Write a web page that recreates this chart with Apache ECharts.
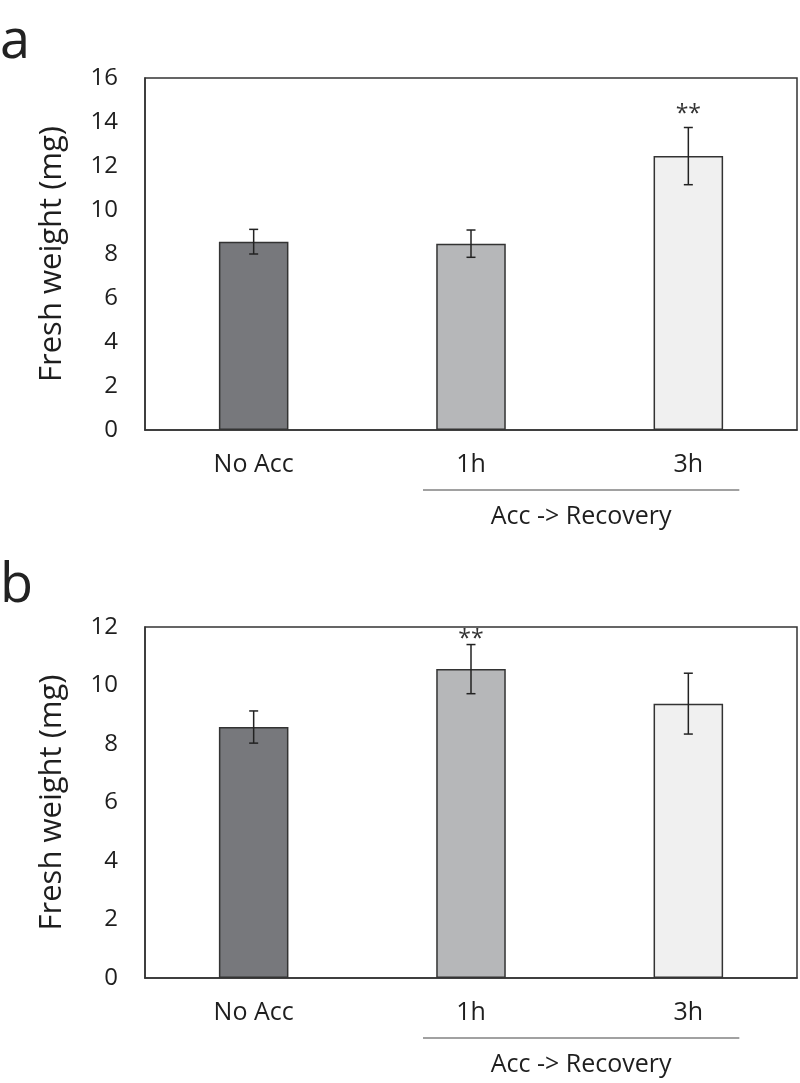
<!DOCTYPE html>
<html>
<head>
<meta charset="utf-8">
<script src="https://cdn.jsdelivr.net/npm/echarts@6/dist/echarts.min.js"></script>
<style>
html,body{margin:0;padding:0;background:#fff;}
#c{width:800px;height:1083px;}
</style>
</head>
<body>
<div id="c"></div>
<script>
// ---- data ----
const categories = ['No Acc', '1h', '3h'];
const meansA = [8.56, 8.47, 12.45];
const errA = [0.56, 0.62, 1.30];
const sigA = ['', '', '**'];
const meansB = [8.58, 10.56, 9.38];
const errB = [0.55, 0.84, 1.04];
const sigB = ['', '**', ''];
const yTicksA = {min: 0, max: 16, interval: 2};
const yTicksB = {min: 0, max: 12, interval: 2};
const panelLabels = ['a', 'b'];
const groupLabel = 'Acc -> Recovery';
const yTitle = 'Fresh weight (mg)';

const barColors = ['#77787c', '#b6b7b9', '#f0f0f0'];
const FONT = '"Open Sans", sans-serif';
const TXT = '#1e1e1e';

const chart = echarts.init(document.getElementById('c'), null, {renderer: 'canvas'});

function xAxisCfg(gi) {
  return {
    type: 'category', gridIndex: gi, data: categories,
    axisLine: {show: true, lineStyle: {color: '#333', width: 1.5}},
    axisTick: {show: false},
    axisLabel: {color: TXT, fontFamily: FONT, fontSize: 25, margin: 22}
  };
}
function yAxisCfg(gi, t) {
  return {
    type: 'value', gridIndex: gi, min: t.min, max: t.max, interval: t.interval,
    name: yTitle, nameLocation: 'middle', nameGap: 77, nameRotate: 90,
    nameTextStyle: {color: TXT, fontFamily: FONT, fontSize: 31},
    axisLine: {show: true, lineStyle: {color: '#333', width: 1.5}},
    axisTick: {show: false},
    splitLine: {show: false},
    axisLabel: {color: TXT, fontFamily: FONT, fontSize: 24, margin: 27}
  };
}
function barSeries(gi, means) {
  return {
    type: 'bar', xAxisIndex: gi, yAxisIndex: gi, barWidth: '32%',
    data: means.map((v, i) => ({value: v, itemStyle: {color: barColors[i]}})),
    itemStyle: {borderColor: '#333', borderWidth: 1.5},
    silent: true
  };
}
function errSeries(gi, means, errs) {
  return {
    type: 'custom', xAxisIndex: gi, yAxisIndex: gi, z: 10,
    data: means.map((m, i) => [i, m - errs[i], m + errs[i]]),
    renderItem: function (params, api) {
      const x = api.value(0);
      const lo = api.coord([x, api.value(1)]);
      const hi = api.coord([x, api.value(2)]);
      const w = 4.5;
      const st = {stroke: '#222', lineWidth: 1.5};
      return {type: 'group', children: [
        {type: 'line', shape: {x1: lo[0], y1: lo[1], x2: hi[0], y2: hi[1]}, style: st},
        {type: 'line', shape: {x1: lo[0] - w, y1: lo[1], x2: lo[0] + w, y2: lo[1]}, style: st},
        {type: 'line', shape: {x1: hi[0] - w, y1: hi[1], x2: hi[0] + w, y2: hi[1]}, style: st}
      ]};
    }
  };
}
function sigSeries(gi, means, errs, sigs, off) {
  return {
    type: 'custom', xAxisIndex: gi, yAxisIndex: gi, z: 11,
    data: means.map((m, i) => [i, m + errs[i], sigs[i]]),
    renderItem: function (params, api) {
      const p = api.coord([api.value(0), api.value(1)]);
      return {type: 'text', x: p[0], y: p[1] - off,
        style: {text: sigs[params.dataIndex], fill: '#333', font: '23px ' + FONT,
          textAlign: 'center', textVerticalAlign: 'bottom'}};
    }
  };
}

chart.setOption({
  backgroundColor: '#fff',
  animation: false,
  grid: [
    {left: 145, top: 78, width: 652, height: 352, show: true, borderColor: '#333', borderWidth: 1.5, backgroundColor: 'transparent'},
    {left: 145, top: 627, width: 652, height: 351, show: true, borderColor: '#333', borderWidth: 1.5, backgroundColor: 'transparent'}
  ],
  xAxis: [xAxisCfg(0), xAxisCfg(1)],
  yAxis: [yAxisCfg(0, yTicksA), yAxisCfg(1, yTicksB)],
  series: [
    barSeries(0, meansA), errSeries(0, meansA, errA), sigSeries(0, meansA, errA, sigA, 2),
    barSeries(1, meansB), errSeries(1, meansB, errB), sigSeries(1, meansB, errB, sigB, -6)
  ]
});

// panel letters and group bracket, positioned from the axes
function groupGraphics(gi) {
  const p1 = chart.convertToPixel({gridIndex: gi}, [1, 0]);
  const p3 = chart.convertToPixel({gridIndex: gi}, [2, 0]);
  const y = p1[1] + 60;
  return [
    {type: 'line', shape: {x1: p1[0] - 48, y1: y, x2: p3[0] + 51, y2: y}, style: {stroke: '#444', lineWidth: 1.2}},
    {type: 'text', x: (p1[0] - 48 + p3[0] + 51) / 2, y: y + 27,
      style: {text: groupLabel, fill: TXT, font: '25px ' + FONT, textAlign: 'center', textVerticalAlign: 'middle'}}
  ];
}
chart.setOption({
  graphic: [
    {type: 'text', left: 0, top: 16, style: {text: panelLabels[0], fill: '#222', font: '54px ' + FONT}},
    {type: 'text', left: 0, top: 560, style: {text: panelLabels[1], fill: '#222', font: '54px ' + FONT}}
  ].concat(groupGraphics(0), groupGraphics(1))
});
</script>
</body>
</html>
